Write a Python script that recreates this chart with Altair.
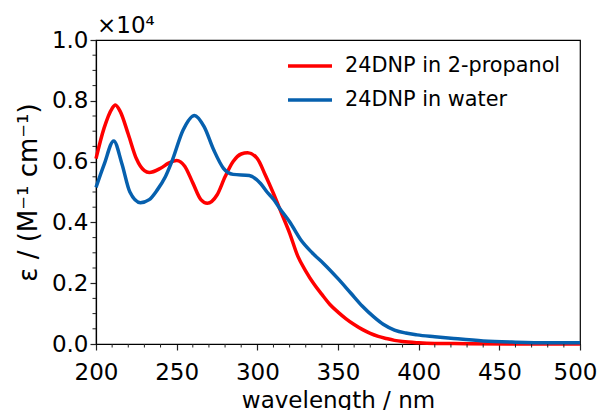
import altair as alt
import pandas as pd

# 24DNP in 2-propanol (epsilon in units of 1e4 M^-1 cm^-1)
wl_prop = [200, 205, 210, 212, 215, 220, 225, 230, 233, 240, 245, 250, 255, 260, 265, 269,
           275, 280, 285, 290, 294, 300, 305, 310, 315, 320, 325, 330, 335, 340, 345, 350,
           355, 360, 365, 370, 375, 380, 385, 390, 400, 410, 430, 460, 500]
eps_prop = [0.61, 0.71, 0.775, 0.786, 0.765, 0.69, 0.61, 0.57, 0.564, 0.578, 0.595, 0.604,
            0.585, 0.53, 0.475, 0.463, 0.49, 0.55, 0.60, 0.625, 0.629, 0.61, 0.555, 0.495,
            0.43, 0.365, 0.29, 0.24, 0.198, 0.163, 0.13, 0.105, 0.083, 0.064, 0.048, 0.035,
            0.025, 0.018, 0.012, 0.008, 0.004, 0.002, 0.001, 0.0, 0.0]

# 24DNP in water
wl_water = [200, 205, 211, 216, 221, 227.5, 233, 238, 243, 247, 254, 261, 267, 273, 279, 285,
            295, 302, 306, 310, 314, 320, 327, 334, 341, 350, 358, 365, 372, 378, 385, 392,
            399, 410, 420, 440, 460, 480, 500]
eps_water = [0.515, 0.59, 0.668, 0.594, 0.50, 0.465, 0.475, 0.507, 0.55, 0.60, 0.704, 0.752,
             0.715, 0.638, 0.578, 0.558, 0.554, 0.528, 0.50, 0.476, 0.445, 0.402, 0.342, 0.30,
             0.265, 0.215, 0.167, 0.125, 0.09, 0.065, 0.046, 0.036, 0.03, 0.024, 0.019, 0.01,
             0.006, 0.004, 0.004]

series_names = ["24DNP in 2-propanol", "24DNP in water"]
series_colors = ["#ff0000", "#0660ae"]

x_major = [200, 250, 300, 350, 400, 450, 500]
x_minor = [v for v in range(200, 501, 10) if v % 50 != 0]
y_major = [0.0, 0.2, 0.4, 0.6, 0.8, 1.0]
y_minor = [round(i * 0.05, 2) for i in range(21) if i % 4 != 0]

df = pd.concat([
    pd.DataFrame({"wl": wl_prop, "eps": eps_prop, "series": series_names[0]}),
    pd.DataFrame({"wl": wl_water, "eps": eps_water, "series": series_names[1]}),
])

W, H = 484, 304
FONT = "DejaVu Sans"

xscale = alt.Scale(domain=[200, 500], nice=False, zero=False)
yscale = alt.Scale(domain=[0, 1.0], nice=False)

lines = alt.Chart(df).mark_line(strokeWidth=3.5, interpolate="monotone").encode(
    x=alt.X("wl:Q", scale=xscale,
            axis=alt.Axis(values=x_major, format="d", title="wavelength / nm",
                          labelFlush=False, labelPadding=11, titlePadding=5,
                          labelOffset={"condition": {"test": "datum.value == 500", "value": -5},
                                       "value": 0})),
    y=alt.Y("eps:Q", scale=yscale,
            axis=alt.Axis(values=y_major, format=".1f", title="ε / (M⁻¹ cm⁻¹)",
                          labelFlush=False, titleFontSize=26, titlePadding=10)),
    color=alt.Color("series:N",
                    scale=alt.Scale(domain=series_names, range=series_colors),
                    legend=alt.Legend(title=None, orient="none", legendX=190, legendY=2,
                                      symbolType="stroke", symbolSize=1936,
                                      symbolStrokeWidth=3.5, labelFontSize=20.8,
                                      labelFont=FONT, labelColor="black",
                                      labelOffset=11, rowPadding=-22, padding=0,
                                      labelLimit=400)),
    order=alt.Order("series:N"),
)

xminor = alt.Chart(pd.DataFrame({"v": x_minor})).mark_rule(color="#222", strokeWidth=1).encode(
    x=alt.X("v:Q", scale=xscale), y=alt.value(H), y2=alt.value(H + 3.5))
yminor = alt.Chart(pd.DataFrame({"v": y_minor})).mark_rule(color="#222", strokeWidth=1).encode(
    y=alt.Y("v:Q", scale=yscale), x=alt.value(0), x2=alt.value(-3.5))

chart = alt.layer(lines, xminor, yminor).properties(
    width=W, height=H,
    title=alt.TitleParams("×10⁴", anchor="start", frame="group", fontSize=23,
                          font=FONT, fontWeight="normal", color="black", offset=-9, dx=1),
    autosize=alt.AutoSizeParams(type="none"),
    padding={"left": 88, "top": 32, "right": 17, "bottom": 66},
).configure_view(stroke="black", strokeWidth=1.2).configure_axis(
    grid=False, domainColor="black", domainWidth=1.2, tickColor="#222", tickSize=6,
    tickWidth=1.2, labelFont=FONT, labelFontSize=23, labelColor="black",
    titleFont=FONT, titleFontSize=23, titleFontWeight="normal", titleColor="black",
)

chart.save("out.html", embed_options={"renderer": "svg", "actions": False})
